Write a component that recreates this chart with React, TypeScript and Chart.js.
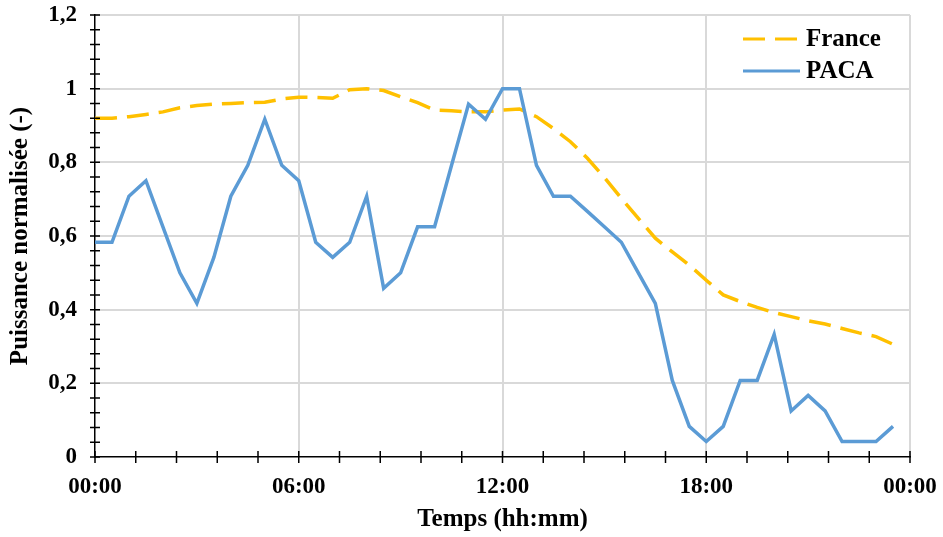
import React, { useEffect, useRef } from "react";
import { Chart, registerables } from "chart.js";

Chart.register(...registerables);

const times = [
  "00:00", "00:30", "01:00", "01:30", "02:00", "02:30", "03:00", "03:30",
  "04:00", "04:30", "05:00", "05:30", "06:00", "06:30", "07:00", "07:30",
  "08:00", "08:30", "09:00", "09:30", "10:00", "10:30", "11:00", "11:30",
  "12:00", "12:30", "13:00", "13:30", "14:00", "14:30", "15:00", "15:30",
  "16:00", "16:30", "17:00", "17:30", "18:00", "18:30", "19:00", "19:30",
  "20:00", "20:30", "21:00", "21:30", "22:00", "22:30", "23:00", "23:30",
];

const france = [
  0.92, 0.92, 0.924, 0.93, 0.937, 0.948, 0.954, 0.958,
  0.96, 0.962, 0.963, 0.972, 0.977, 0.976, 0.974, 0.997,
  1.0, 0.995, 0.978, 0.962, 0.942, 0.94, 0.937, 0.937,
  0.942, 0.945, 0.924, 0.892, 0.856, 0.811, 0.759, 0.702,
  0.648, 0.594, 0.557, 0.521, 0.48, 0.44, 0.422, 0.406,
  0.392, 0.381, 0.37, 0.361, 0.349, 0.337, 0.327, 0.306,
];

const paca = [
  0.583, 0.583, 0.708, 0.75, 0.625, 0.5, 0.417, 0.542,
  0.708, 0.792, 0.917, 0.792, 0.75, 0.583, 0.542, 0.583,
  0.708, 0.458, 0.5, 0.625, 0.625, 0.792, 0.958, 0.917,
  1.0, 1.0, 0.792, 0.708, 0.708, 0.667, 0.625, 0.583,
  0.5, 0.417, 0.208, 0.083, 0.042, 0.083, 0.208, 0.208,
  0.333, 0.125, 0.167, 0.125, 0.042, 0.042, 0.042, 0.083,
];

const seriesNames = ["France", "PACA"];
const xTickLabels = ["00:00", "06:00", "12:00", "18:00", "00:00"];
const yTickLabels = ["0", "0,2", "0,4", "0,6", "0,8", "1", "1,2"];
const xAxisTitle = "Temps (hh:mm)";
const yAxisTitle = "Puissance normalisée (-)";

const X_MIN = 0;
const X_MAX = 1440;
const X_MAJOR = 360;
const X_MINOR = 72;
const Y_MIN = 0;
const Y_MAX = 1.2;
const Y_MAJOR = 0.2;
const Y_MINOR = 0.04;

const FONT_FAMILY = "'Liberation Serif', 'Times New Roman', serif";

const toMinutes = (t: string) => {
  const [h, m] = t.split(":").map(Number);
  return h * 60 + m;
};

const crossTicksPlugin = {
  id: "crossTicks",
  afterDraw(chart: any) {
    const { ctx, chartArea, scales } = chart;
    const xs = scales.x;
    const ys = scales.y;
    ctx.save();
    ctx.strokeStyle = "#000";
    ctx.lineWidth = 1.5;
    ctx.beginPath();
    const nx = Math.round((X_MAX - X_MIN) / X_MINOR);
    for (let i = 0; i <= nx; i++) {
      const px = xs.getPixelForValue(X_MIN + i * X_MINOR);
      ctx.moveTo(px, chartArea.bottom - 6);
      ctx.lineTo(px, chartArea.bottom + 6);
    }
    const ny = Math.round((Y_MAX - Y_MIN) / Y_MINOR);
    for (let i = 0; i <= ny; i++) {
      const py = ys.getPixelForValue(Y_MIN + i * Y_MINOR);
      ctx.moveTo(chartArea.left - 5, py);
      ctx.lineTo(chartArea.left + 5, py);
    }
    ctx.stroke();
    ctx.restore();
  },
};

const insideLegendPlugin = {
  id: "insideLegend",
  afterDraw(chart: any) {
    const { ctx, chartArea } = chart;
    const x0 = chartArea.right - 167;
    const lineLen = 57;
    chart.data.datasets.forEach((ds: any, i: number) => {
      const yy = chartArea.top + 24 + i * 32;
      ctx.save();
      ctx.strokeStyle = ds.borderColor;
      ctx.lineWidth = 3;
      ctx.setLineDash(ds.borderDash || []);
      ctx.beginPath();
      ctx.moveTo(x0, yy);
      ctx.lineTo(x0 + lineLen, yy);
      ctx.stroke();
      ctx.setLineDash([]);
      ctx.fillStyle = "#000";
      ctx.font = `bold 25px ${FONT_FAMILY}`;
      ctx.textBaseline = "middle";
      ctx.textAlign = "left";
      ctx.fillText(ds.label, x0 + lineLen + 6, yy + 1);
      ctx.restore();
    });
  },
};

export default function App() {
  const canvasRef = useRef<HTMLCanvasElement | null>(null);

  useEffect(() => {
    if (!canvasRef.current) return;
    const xVals = times.map(toMinutes);
    const chart = new Chart(canvasRef.current, {
      type: "line",
      data: {
        datasets: [
          {
            label: seriesNames[0],
            data: xVals.map((x, i) => ({ x, y: france[i] })),
            borderColor: "#FFC000",
            backgroundColor: "#FFC000",
            borderWidth: 3.5,
            borderDash: [22, 10],
            pointRadius: 0,
            tension: 0,
            order: 1,
          },
          {
            label: seriesNames[1],
            data: xVals.map((x, i) => ({ x, y: paca[i] })),
            borderColor: "#5B9BD5",
            backgroundColor: "#5B9BD5",
            borderWidth: 3.5,
            pointRadius: 0,
            tension: 0,
            order: 0,
          },
        ],
      },
      options: {
        responsive: false,
        animation: false,
        layout: {
          padding: { top: 15, right: 33, left: 0, bottom: 0 },
          autoPadding: false,
        } as any,
        plugins: {
          legend: { display: false },
          tooltip: { enabled: false },
        },
        scales: {
          x: {
            type: "linear",
            min: X_MIN,
            max: X_MAX,
            ticks: {
              stepSize: X_MAJOR,
              autoSkip: false,
              maxRotation: 0,
              padding: 16,
              color: "#000",
              font: { family: FONT_FAMILY, size: 23, weight: "bold" },
              callback: (_v: any, i: number) => xTickLabels[i],
            },
            grid: {
              color: (c: any) =>
                c.tick && c.tick.value === X_MIN ? "rgba(0,0,0,0)" : "#D9D9D9",
              lineWidth: 2,
              drawTicks: false,
            },
            border: { display: true, color: "#000", width: 1.5 },
            title: {
              display: true,
              text: xAxisTitle,
              color: "#000",
              font: { family: FONT_FAMILY, size: 25, weight: "bold", lineHeight: 1.2 },
              padding: { top: 0, bottom: 2 },
            },
            afterFit: (s: any) => {
              s.height = 80;
              s.paddingLeft = 0;
              s.paddingRight = 0;
            },
          },
          y: {
            type: "linear",
            min: Y_MIN,
            max: Y_MAX,
            ticks: {
              stepSize: Y_MAJOR,
              padding: 18,
              color: "#000",
              font: { family: FONT_FAMILY, size: 23, weight: "bold" },
              callback: (_v: any, i: number) => yTickLabels[i],
            },
            grid: {
              color: (c: any) =>
                c.tick && c.tick.value === Y_MIN ? "rgba(0,0,0,0)" : "#D9D9D9",
              lineWidth: 2,
              drawTicks: false,
            },
            border: { display: true, color: "#000", width: 1.5 },
            title: {
              display: true,
              text: yAxisTitle,
              color: "#000",
              font: { family: FONT_FAMILY, size: 25, weight: "bold", lineHeight: 1.2 },
              padding: { top: 6, bottom: 0 },
            },
            afterFit: (s: any) => {
              s.width = 95;
              s.paddingTop = 0;
              s.paddingBottom = 0;
            },
          },
        },
      } as any,
      plugins: [crossTicksPlugin, insideLegendPlugin],
    });
    return () => chart.destroy();
  }, []);

  return (
    <div style={{ position: "absolute", left: 0, top: 0, width: 943, height: 537, background: "#fff" }}>
      <canvas ref={canvasRef} width={943} height={537} style={{ display: "block" }} />
    </div>
  );
}
